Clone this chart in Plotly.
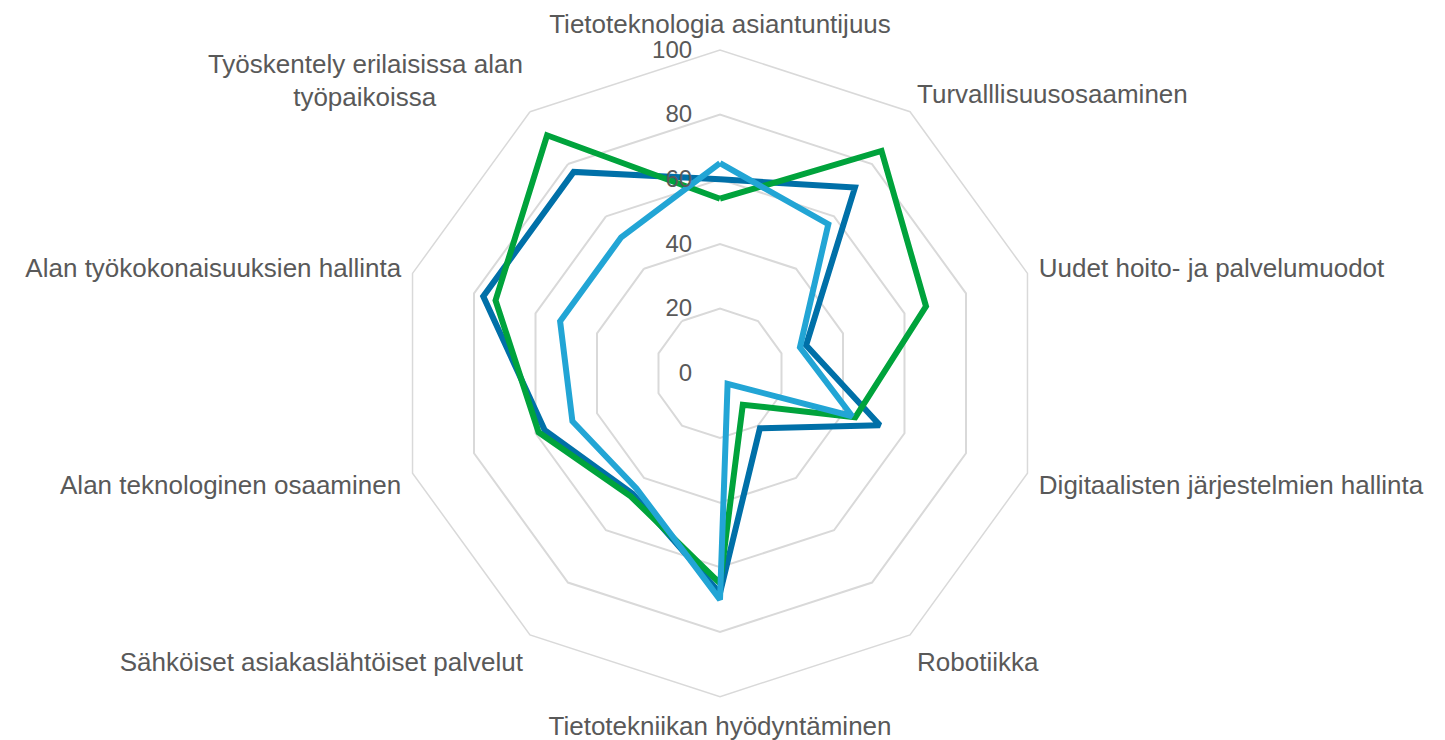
import plotly.graph_objects as go

NB = "\u00a0"
categories = [
    "Tietoteknologia asiantuntijuus",
    "Turvalllisuusosaaminen",
    "Uudet hoito- ja palvelumuodot",
    "Digitaalisten järjestelmien hallinta",
    "Robotiikka",
    "Tietotekniikan hyödyntäminen",
    "Sähköiset asiakaslähtöiset palvelut",
    "Alan teknologinen osaaminen",
    "Alan työkokonaisuuksien hallinta",
    "Työskentely erilaisissa alan<br>työpaikoissa" + NB * 12,
]

series_dark = [60, 71, 28, 52, 21, 68, 46, 57, 77, 77]
series_green = [54, 85, 67, 44, 12, 65, 47, 59, 73, 91]
series_light = [65, 57, 26, 43, 4, 70, 44, 48, 52, 52]

radial_ticks = [0, 20, 40, 60, 80, 100]

fig = go.Figure()
for vals, color in [(series_dark, "#0070A8"), (series_green, "#00A33C"), (series_light, "#22A5D5")]:
    fig.add_trace(go.Scatterpolar(
        r=vals + vals[:1],
        theta=categories + categories[:1],
        mode="lines",
        line=dict(color=color, width=6),
        showlegend=False,
    ))

fig.update_layout(
    width=1445, height=740,
    margin=dict(l=0, r=0, t=0, b=0),
    paper_bgcolor="white",
    plot_bgcolor="white",
    font=dict(family="Liberation Sans, Arial", color="#595959", size=26),
    polar=dict(
        domain=dict(x=[396.7 / 1445, 1043.3 / 1445], y=[1 - 696.6 / 740, 1 - 50 / 740]),
        bgcolor="white",
        gridshape="linear",
        radialaxis=dict(
            range=[0, 100],
            tickvals=radial_ticks,
            angle=90,
            tickangle=90,
            side="counterclockwise",
            showline=False,
            ticks="outside",
            ticklen=19,
            tickcolor="rgba(0,0,0,0)",
            gridcolor="#D9D9D9",
            gridwidth=1.5,
            tickfont=dict(size=24, color="#595959"),
        ),
        angularaxis=dict(
            direction="clockwise",
            rotation=90,
            showgrid=False,
            showline=True,
            linecolor="#D9D9D9",
            linewidth=1.5,
            ticks="outside",
            ticklen=6,
            tickcolor="rgba(0,0,0,0)",
            tickfont=dict(size=26, color="#595959"),
        ),
    ),
)

fig.write_html("out.html")
